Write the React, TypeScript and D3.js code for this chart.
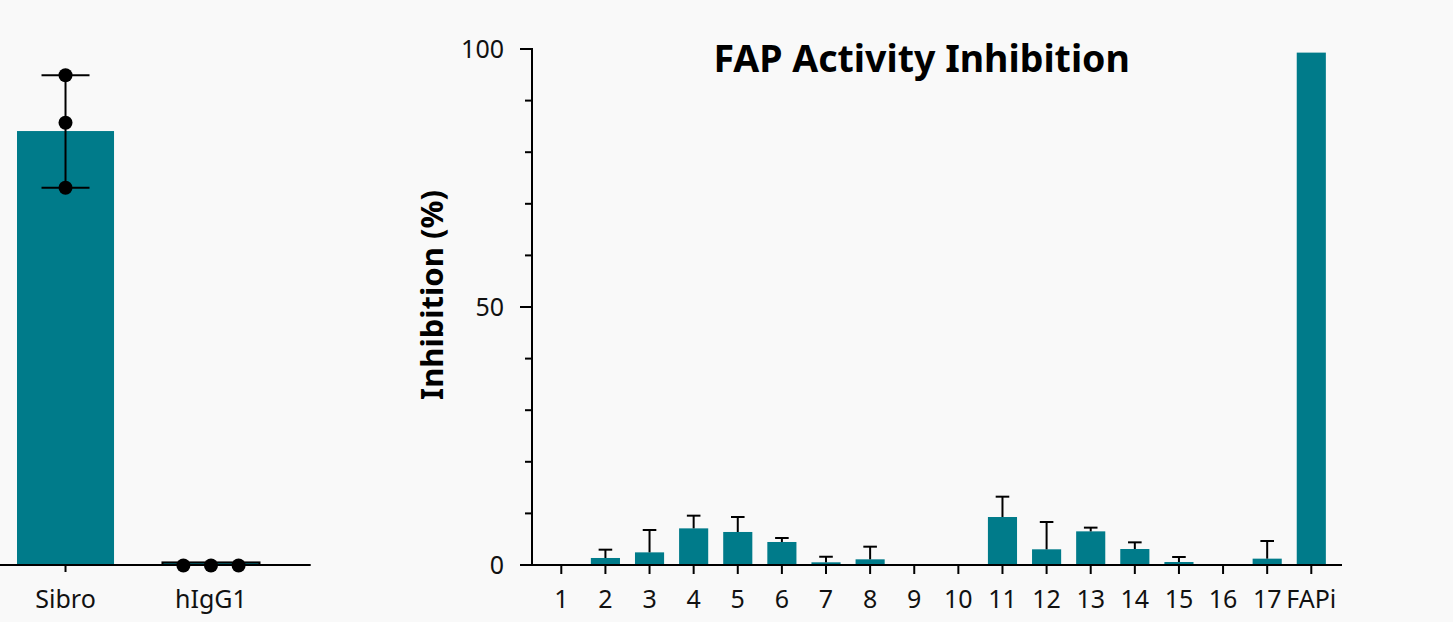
import React from "react";
import * as d3 from "d3";

// ---- Left panel data ----
const leftGroups = ["Sibro", "hIgG1"];
const leftMeans = [84.1, 0.5];
const sibroPoints = [94.9, 85.7, 73.1];
const hIgG1Points = [-0.1, -0.1, -0.1];
const leftPoints = [sibroPoints, hIgG1Points];

// ---- Right panel data ----
const categories = ["1", "2", "3", "4", "5", "6", "7", "8", "9", "10", "11", "12", "13", "14", "15", "16", "17", "FAPi"];
const inhibition = [0, 1.36, 2.45, 7.1, 6.4, 4.46, 0.52, 1.1, 0, 0, 9.3, 3.04, 6.52, 3.1, 0.58, 0, 1.23, 99.3];
const inhibitionErr = [0, 1.61, 4.33, 2.46, 2.9, 0.77, 1.08, 2.45, 0, 0, 3.94, 5.29, 0.72, 1.29, 0.97, 0, 3.42, 0];
const yTicks = [0, 10, 20, 30, 40, 50, 60, 70, 80, 90, 100];
const yLabelTicks = [0, 50, 100];

const TEAL = "#007B8A";
const INK = "#111";
const FONT = "'Noto Sans', 'Open Sans', sans-serif";

export default function App() {
  const W = 1453, H = 622;
  const y = d3.scaleLinear().domain([0, 100]).range([565, 49]);

  const xL = d3.scaleBand<string>().domain(leftGroups).range([-34.2, 310.7]).paddingInner(0.333).paddingOuter(0.352);
  const xR = d3.scaleBand<string>().domain(categories).range([531.3, 1341.3]).paddingInner(0.34).paddingOuter(0.35);
  const axisX0 = 532;

  return (
    <svg width={W} height={H} style={{ position: "absolute", left: 0, top: 0, background: "#F9F9F9", fontFamily: FONT }}>
      <rect x={0} y={0} width={W} height={H} fill="#F9F9F9" />

      {/* Left panel */}
      <g>
        {leftGroups.map((g, i) => {
          const x0 = xL(g)!;
          const bw = xL.bandwidth();
          const yv = y(leftMeans[i]);
          const tiny = Math.abs(y(0) - yv) < 5;
          return (
            <rect key={g} x={x0} y={Math.min(yv, y(0))} width={bw} height={Math.abs(y(0) - yv)}
              fill={TEAL} stroke={tiny ? "#000" : "none"} strokeWidth={tiny ? 2 : 0} />
          );
        })}
        <line x1={0} x2={310.7} y1={y(0)} y2={y(0)} stroke="#000" strokeWidth={2} />
        <line x1={xL("Sibro")! + xL.bandwidth() / 2} x2={xL("Sibro")! + xL.bandwidth() / 2} y1={y(0)} y2={y(0) + 7} stroke="#000" strokeWidth={2} />
        {leftGroups.map((g, i) => {
          const cx = xL(g)! + xL.bandwidth() / 2;
          const pts = leftPoints[i];
          const lo = d3.min(pts)!, hi = d3.max(pts)!;
          const spread = hi - lo < 2;
          return (
            <g key={g}>
              {!spread && (
                <g stroke="#000" strokeWidth={2}>
                  <line x1={cx} x2={cx} y1={y(hi)} y2={y(lo)} />
                  <line x1={cx - 24} x2={cx + 24} y1={y(hi)} y2={y(hi)} />
                  <line x1={cx - 24} x2={cx + 24} y1={y(lo)} y2={y(lo)} />
                </g>
              )}
              {pts.map((v, j) => (
                <circle key={j} cx={spread ? cx + (j - (pts.length - 1) / 2) * 27.6 : cx} cy={y(v)} r={7} fill="#000" />
              ))}
              <text x={cx} y={607.5} textAnchor="middle" fontSize={25} fill={INK}>{g}</text>
            </g>
          );
        })}
      </g>

      {/* Right panel */}
      <g>
        {categories.map((c, i) => {
          const x0 = xR(c)!;
          const bw = xR.bandwidth();
          const v = inhibition[i];
          if (v <= 0) return null;
          return <rect key={c} x={x0} y={y(v)} width={bw} height={y(0) - y(v)} fill={TEAL} />;
        })}
        {categories.map((c, i) => {
          const cx = xR(c)! + xR.bandwidth() / 2;
          const v = inhibition[i];
          const e = inhibitionErr[i];
          if (v <= 0 || e <= 0) return null;
          return (
            <g key={c} stroke="#000" strokeWidth={2}>
              <line x1={cx} x2={cx} y1={y(v)} y2={y(v + e)} />
              <line x1={cx - 6.8} x2={cx + 6.8} y1={y(v + e)} y2={y(v + e)} />
            </g>
          );
        })}
        {/* x axis */}
        <line x1={axisX0} x2={1342} y1={y(0)} y2={y(0)} stroke="#000" strokeWidth={2} />
        {categories.map((c) => {
          const cx = xR(c)! + xR.bandwidth() / 2;
          return (
            <g key={c}>
              <line x1={cx} x2={cx} y1={y(0)} y2={y(0) + 9} stroke="#000" strokeWidth={2} />
              <text x={cx} y={607.5} textAnchor="middle" fontSize={25} fill={INK}>{c}</text>
            </g>
          );
        })}
        {/* y axis */}
        <line x1={axisX0} x2={axisX0} y1={y(100) - 1} y2={y(0) + 1} stroke="#000" strokeWidth={2} />
        {yTicks.map((t) => {
          const major = yLabelTicks.includes(t);
          return <line key={t} x1={axisX0 - (major ? 12 : 7)} x2={axisX0} y1={y(t)} y2={y(t)} stroke="#000" strokeWidth={2} />;
        })}
        {yLabelTicks.map((t) => (
          <text key={t} x={504} y={y(t)} dy="0.35em" textAnchor="end" fontSize={25} fill={INK}>{t}</text>
        ))}
        <text transform="translate(443,295) rotate(-90)" textAnchor="middle" fontSize={31} fontWeight="bold" fill="#000">Inhibition (%)</text>
        <text x={921.7} y={72} textAnchor="middle" fontSize={37.5} fontWeight="bold" fill="#000">FAP Activity Inhibition</text>
      </g>
    </svg>
  );
}
